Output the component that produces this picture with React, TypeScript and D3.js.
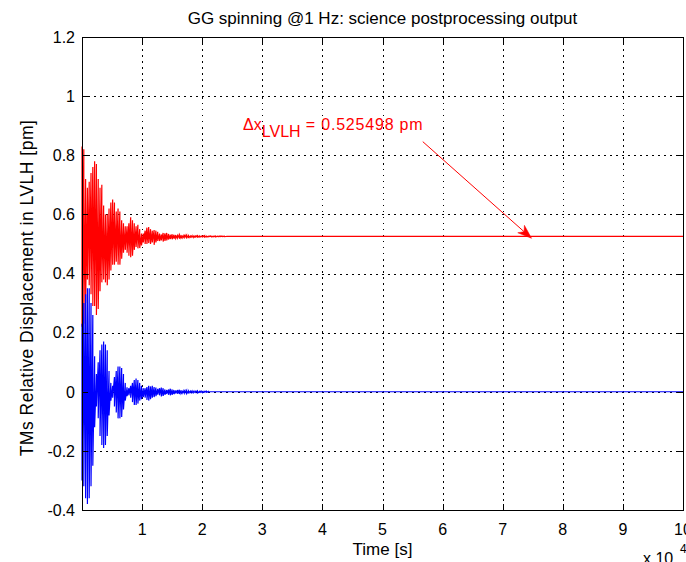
import React from 'react';
import * as d3 from 'd3';

const W = 686;
const H = 562;

// time samples in units of 10^4 s
const timeSamples = [
  0, 0.03, 0.06, 0.09, 0.12, 0.15, 0.18, 0.21, 0.24, 0.27,
  0.3, 0.33, 0.36, 0.39, 0.42, 0.45, 0.48, 0.51, 0.54, 0.57,
  0.6, 0.63, 0.66, 0.69, 0.72, 0.75, 0.78, 0.81, 0.84, 0.87,
  0.9, 0.93, 0.96, 0.99, 1.02, 1.05, 1.08, 1.11, 1.14, 1.17,
  1.2, 1.23, 1.26, 1.29, 1.32, 1.35, 1.38, 1.41, 1.44, 1.47,
  1.5, 1.53, 1.56, 1.59, 1.62, 1.65, 1.68, 1.71, 1.74, 1.77,
  1.8, 1.83, 1.86, 1.89, 1.92, 1.95, 1.98, 2.01, 2.04, 2.07,
  2.1, 2.13, 2.16, 2.19, 2.22, 2.25, 2.28, 2.31, 2.34, 2.37,
  2.4,
];

const redUpper = [
  0.83, 0.82, 0.72, 0.69, 0.71, 0.74, 0.76, 0.78, 0.77, 0.72,
  0.69, 0.70, 0.63, 0.60, 0.60, 0.62, 0.64, 0.65, 0.64, 0.61,
  0.62, 0.61, 0.58, 0.57, 0.56, 0.56, 0.57, 0.59, 0.58, 0.57,
  0.56, 0.565, 0.55, 0.535, 0.535, 0.545, 0.555, 0.557, 0.55, 0.545,
  0.547, 0.545, 0.541, 0.535, 0.532, 0.537, 0.536, 0.537, 0.534, 0.531,
  0.533, 0.531, 0.530, 0.529, 0.531, 0.530, 0.528, 0.529, 0.530, 0.528,
  0.527, 0.528, 0.527, 0.527, 0.528, 0.527, 0.526, 0.527, 0.528, 0.526,
  0.526, 0.527, 0.526, 0.526, 0.527, 0.526, 0.526, 0.527, 0.526, 0.526,
  0.5255,
];

const redLower = [
  0.22, 0.23, 0.30, 0.38, 0.36, 0.33, 0.29, 0.29, 0.26, 0.28,
  0.34, 0.37, 0.38, 0.37, 0.36, 0.38, 0.41, 0.43, 0.43, 0.44,
  0.43, 0.43, 0.45, 0.47, 0.48, 0.47, 0.46, 0.455, 0.46, 0.48,
  0.49, 0.485, 0.486, 0.495, 0.505, 0.50, 0.50, 0.503, 0.50, 0.505,
  0.497, 0.505, 0.51, 0.51, 0.512, 0.508, 0.51, 0.512, 0.515, 0.517,
  0.516, 0.518, 0.519, 0.52, 0.518, 0.52, 0.521, 0.522, 0.521, 0.522,
  0.522, 0.523, 0.522, 0.524, 0.523, 0.523, 0.524, 0.524, 0.523, 0.524,
  0.524, 0.525, 0.524, 0.525, 0.524, 0.525, 0.525, 0.525, 0.525, 0.525,
  0.5255,
];

const blueUpper = [
  0.23, 0.30, 0.33, 0.35, 0.35, 0.30, 0.26, 0.12, 0.06, 0.10,
  0.14, 0.16, 0.17, 0.16, 0.14, 0.07, 0.03, 0.02, 0.05, 0.07,
  0.085, 0.085, 0.08, 0.06, 0.03, 0.015, 0.012, 0.02, 0.03, 0.04,
  0.045, 0.04, 0.03, 0.02, 0.012, 0.012, 0.016, 0.02, 0.018, 0.02,
  0.016, 0.014, 0.01, 0.012, 0.014, 0.012, 0.008, 0.006, 0.008, 0.01,
  0.008, 0.006, 0.004, 0.006, 0.007, 0.005, 0.003, 0.004, 0.005, 0.003,
  0.002, 0.003, 0.002, 0.002, 0.003, 0.001, 0.002, 0.001, 0.001, 0.002,
  0.001, 0, 0, 0, 0, 0, 0, 0, 0, 0,
  0,
];

const blueLower = [
  -0.30, -0.32, -0.36, -0.38, -0.36, -0.32, -0.25, -0.12, -0.05, -0.09,
  -0.15, -0.18, -0.19, -0.18, -0.15, -0.08, -0.03, -0.02, -0.05, -0.07,
  -0.09, -0.09, -0.085, -0.06, -0.03, -0.015, -0.012, -0.02, -0.035, -0.045,
  -0.045, -0.04, -0.03, -0.025, -0.018, -0.02, -0.028, -0.03, -0.025, -0.02,
  -0.018, -0.015, -0.01, -0.012, -0.016, -0.014, -0.01, -0.008, -0.01, -0.012,
  -0.01, -0.008, -0.006, -0.007, -0.008, -0.006, -0.004, -0.005, -0.006, -0.004,
  -0.003, -0.004, -0.003, -0.002, -0.004, -0.002, -0.002, -0.003, -0.001, -0.002,
  -0.001, 0, 0, 0, 0, 0, 0, 0, 0, 0,
  0,
];

const redSteady = 0.525498;
const blueSteady = 0;
const tEnd = 10;

const xTicks = [1, 2, 3, 4, 5, 6, 7, 8, 9, 10];
const xTickLabels = ['1', '2', '3', '4', '5', '6', '7', '8', '9', '10'];
const yTicks = [-0.4, -0.2, 0, 0.2, 0.4, 0.6, 0.8, 1, 1.2];
const yTickLabels = ['-0.4', '-0.2', '0', '0.2', '0.4', '0.6', '0.8', '1', '1.2'];

const titleText = 'GG spinning @1 Hz: science postprocessing output';
const xLabelText = 'Time [s]';
const yLabelText = 'TMs Relative Displacement in LVLH [pm]';
const annotationValue = '= 0.525498 pm';
const annotationPos = [2.68, 0.885];
const arrowFrom = [5.67, 0.846];
const arrowTo = [7.48, 0.519];

const FONT = '"Liberation Sans", Arial, Helvetica, sans-serif';

export default function App() {
  const left = 82;
  const right = 683;
  const top = 37;
  const bottom = 510;
  const x = d3.scaleLinear().domain([0, 10]).range([left, right]);
  const y = d3.scaleLinear().domain([-0.4, 1.2]).range([bottom, top]);

  const mkPts = (hi: number[], lo: number[], steady: number) => {
    const pts: [number, number][] = [];
    timeSamples.forEach((t, i) => {
      pts.push([t, hi[i]]);
      pts.push([t, lo[i]]);
    });
    pts.push([timeSamples[timeSamples.length - 1], steady]);
    pts.push([tEnd, steady]);
    return pts;
  };
  const line = d3
    .line<[number, number]>()
    .x((d) => x(d[0]))
    .y((d) => y(d[1]));

  const redPath = line(mkPts(redUpper, redLower, redSteady)) || '';
  const bluePath = line(mkPts(blueUpper, blueLower, blueSteady)) || '';

  // arrow geometry
  const ax0 = x(arrowFrom[0]);
  const ay0 = y(arrowFrom[1]);
  const ax1 = x(arrowTo[0]);
  const ay1 = y(arrowTo[1]);
  const ang = Math.atan2(ay1 - ay0, ax1 - ax0);
  const headLen = 14;
  const headW = 5;
  const notch = 10;
  const ux = Math.cos(ang);
  const uy = Math.sin(ang);
  const bx = ax1 - ux * headLen;
  const by = ay1 - uy * headLen;
  const nx = ax1 - ux * notch;
  const ny = ay1 - uy * notch;
  const head = [
    [ax1, ay1],
    [bx - uy * headW, by + ux * headW],
    [nx, ny],
    [bx + uy * headW, by - ux * headW],
  ]
    .map((p) => p.join(','))
    .join(' ');

  const gridX = xTicks.filter((t) => t < 10);
  const gridY = yTicks.filter((t) => t > -0.4 && t < 1.2);
  const tickLen = 6;

  return (
    <svg
      width={W}
      height={H}
      style={{ position: 'absolute', left: 0, top: 0, background: '#fff' }}
      fontFamily={FONT}
    >
      <rect x={0} y={0} width={W} height={H} fill="#fff" />
      {/* grid */}
      <g stroke="#000" strokeWidth={1} strokeDasharray="1.5,4.5" shapeRendering="crispEdges">
        {gridX.map((t) => (
          <line key={'gx' + t} x1={Math.round(x(t)) + 0.5} x2={Math.round(x(t)) + 0.5} y1={top} y2={bottom} />
        ))}
        {gridY.map((t) => (
          <line key={'gy' + t} y1={Math.round(y(t)) + 0.5} y2={Math.round(y(t)) + 0.5} x1={left} x2={right} />
        ))}
      </g>
      {/* data */}
      <path d={redPath} fill="none" stroke="#ff0000" strokeWidth={1.2} />
      <path d={bluePath} fill="none" stroke="#0000ff" strokeWidth={1.2} />
      {/* axes box */}
      <g stroke="#000" strokeWidth={1} shapeRendering="crispEdges" fill="none">
        <rect x={left + 0.5} y={top + 0.5} width={right - left} height={bottom - top} />
        {xTicks.map((t) => (
          <g key={'xt' + t}>
            <line x1={Math.round(x(t)) + 0.5} x2={Math.round(x(t)) + 0.5} y1={bottom} y2={bottom - tickLen} />
            <line x1={Math.round(x(t)) + 0.5} x2={Math.round(x(t)) + 0.5} y1={top} y2={top + tickLen} />
          </g>
        ))}
        {yTicks.map((t) => (
          <g key={'yt' + t}>
            <line y1={Math.round(y(t)) + 0.5} y2={Math.round(y(t)) + 0.5} x1={left} x2={left + tickLen} />
            <line y1={Math.round(y(t)) + 0.5} y2={Math.round(y(t)) + 0.5} x1={right} x2={right - tickLen} />
          </g>
        ))}
      </g>
      {/* tick labels */}
      <g fontSize={16} fill="#000">
        {xTicks.map((t, i) => (
          <text key={'xl' + t} x={x(t)} y={535} textAnchor="middle">
            {xTickLabels[i]}
          </text>
        ))}
        {yTicks.map((t, i) => (
          <text key={'yl' + t} x={75} y={y(t)} dy="0.36em" textAnchor="end">
            {yTickLabels[i]}
          </text>
        ))}
      </g>
      {/* exponent */}
      <text x={643} y={564} fontSize={16} fill="#000">
        x 10
      </text>
      <text x={680} y={553} fontSize={12} fill="#000">
        4
      </text>
      {/* labels */}
      <text x={(left + right) / 2} y={24} fontSize={17} textAnchor="middle" fill="#000">
        {titleText}
      </text>
      <text x={(left + right) / 2} y={555} fontSize={17} textAnchor="middle" fill="#000">
        {xLabelText}
      </text>
      <text
        transform="translate(33, 288) rotate(-90)"
        fontSize={17.5}
        letterSpacing={0.5}
        textAnchor="middle"
        fill="#000"
      >
        {yLabelText}
      </text>
      {/* annotation */}
      <text x={x(annotationPos[0])} y={y(annotationPos[1])} fontSize={16} fill="#ff0000">
        <tspan>Δx</tspan>
        <tspan dy={7}>LVLH</tspan>
        <tspan dy={-7} letterSpacing={0.8}> {annotationValue}</tspan>
      </text>
      <line x1={ax0} y1={ay0} x2={nx} y2={ny} stroke="#ff0000" strokeWidth={1} />
      <polygon points={head} fill="#ff0000" stroke="#ff0000" strokeWidth={0.5} />
    </svg>
  );
}
